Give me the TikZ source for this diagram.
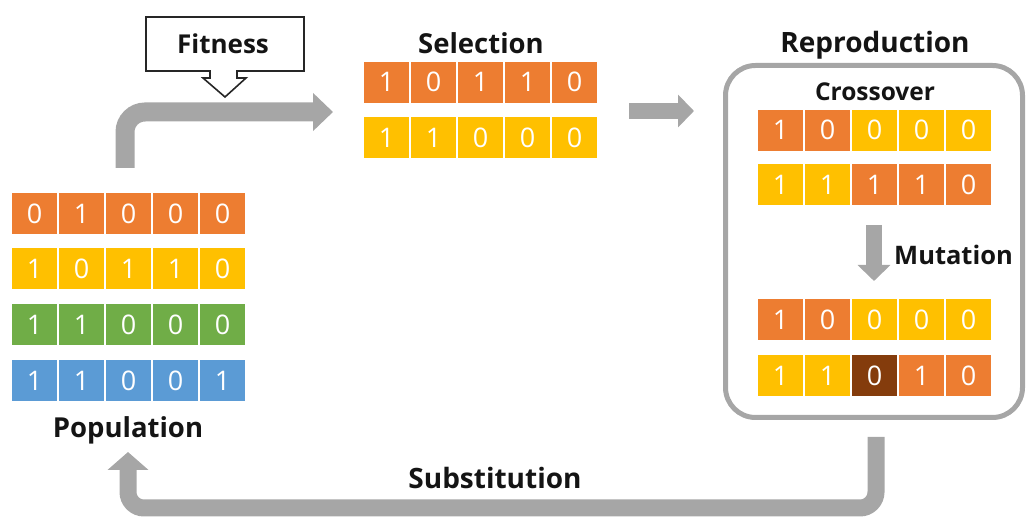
\documentclass[tikz,border=0pt]{standalone}
\usepackage{fontspec}
\setmainfont{Open Sans}
\usetikzlibrary{arrows.meta}
\definecolor{cOr}{HTML}{ED7D31}
\definecolor{cYe}{HTML}{FFC000}
\definecolor{cGr}{HTML}{70AD47}
\definecolor{cBl}{HTML}{5B9BD5}
\definecolor{cBr}{HTML}{843C0C}
\definecolor{arrgray}{HTML}{A6A6A6}
\definecolor{boxgray}{HTML}{A6A6A6}
\newcommand\cellrow[4]{%
  \foreach \c/\b [count=\i] in {#4} {
    \node[cellbox, fill=\c] (#1-\i) at ({#2+47*\i-47+22.5}, #3) {\b};
  }}
\newcommand\lblfont[1]{\fontsize{#1}{#1}\selectfont\bfseries}
\tikzset{
  x=1pt, y=1pt,
  cellbox/.style={draw=white, line width=0.8pt, minimum width=46pt, minimum height=42pt, inner sep=0pt,
    text=white, font=\fontsize{27}{27}\selectfont},
  lbl/.style={text=black!92, inner sep=0pt},
  grayarrow/.style={draw=arrgray, line width=#1},
}
\begin{document}
\begin{tikzpicture}
\useasboundingbox (0,0) rectangle (1033,527);
% Population
\cellrow{p1}{12}{313.5}{cOr/0,cOr/1,cOr/0,cOr/0,cOr/0}
\cellrow{p2}{12}{258.5}{cYe/1,cYe/0,cYe/1,cYe/1,cYe/0}
\cellrow{p3}{12}{202.5}{cGr/1,cGr/1,cGr/0,cGr/0,cGr/0}
\cellrow{p4}{12}{146.5}{cBl/1,cBl/1,cBl/0,cBl/0,cBl/1}
\node[lbl, font=\lblfont{27.5}] (poplabel) at (128,97) {Population};
% Selection
\node[lbl, font=\lblfont{27.5}] (sellabel) at (481,484) {Selection};
\cellrow{s1}{364}{445}{cOr/1,cOr/0,cOr/1,cOr/1,cOr/0}
\cellrow{s2}{364}{389.5}{cYe/1,cYe/1,cYe/0,cYe/0,cYe/0}
% Reproduction
\node[lbl, font=\lblfont{28}] (replabel) at (875,482) {Reproduction};
\node[draw=boxgray, line width=5pt, rounded corners=30pt, minimum width=297pt, minimum height=352pt, inner sep=0pt] (repbox) at (874,285.5) {};
\node[lbl, font=\lblfont{24.5}] (crosslabel) at (875,435) {Crossover};
\cellrow{c1}{758}{397}{cOr/1,cOr/0,cYe/0,cYe/0,cYe/0}
\cellrow{c2}{758}{342.5}{cYe/1,cYe/1,cOr/1,cOr/1,cOr/0}
\node[lbl, font=\lblfont{25.5}, anchor=west] (mutlabel) at (894,272) {Mutation};
\cellrow{m1}{758}{207.5}{cOr/1,cOr/0,cYe/0,cYe/0,cYe/0}
\cellrow{m2}{758}{151.5}{cYe/1,cYe/1,cBr/0,cOr/1,cOr/0}
% Fitness callout
\node[lbl, font=\lblfont{26}] (fitlabel) at (223,483) {Fitness};
\draw[line width=1.6pt, black!85, line join=miter]
  (146,510) -- (304,510) -- (304,456) -- (237,456) -- (237,449) -- (246,449)
  -- (225,430) -- (203,449) -- (210,449) -- (210,456) -- (146,456) -- cycle;
% Arrows
\coordinate (fitStart) at (125,359);
\coordinate (fitEnd) at (333,415);
\draw[grayarrow=19pt, rounded corners=20pt, -{Triangle[width=37pt 0, length=20pt 0]}]
  (fitStart) |- (fitEnd);
\coordinate (selOutA) at (629,416);
\coordinate (selOutB) at (694,416);
\draw[grayarrow=16pt, -{Triangle[width=32pt 0, length=16pt 0]}] (selOutA) -- (selOutB);
\coordinate (mutA) at (874,302);
\coordinate (mutB) at (874,246);
\draw[grayarrow=16pt, -{Triangle[width=32pt 0, length=16pt 0]}] (mutA) -- (mutB);
\coordinate (subA) at (876,90);
\coordinate (subB) at (128,75);
\draw[grayarrow=17pt, rounded corners=16pt, -{Triangle[width=40pt 0, length=18pt 0]}]
  (subA) -- (876,19) -| (subB);
\node[lbl, font=\lblfont{28}] (sublabel) at (495,49) {Substitution};
\end{tikzpicture}
\end{document}
